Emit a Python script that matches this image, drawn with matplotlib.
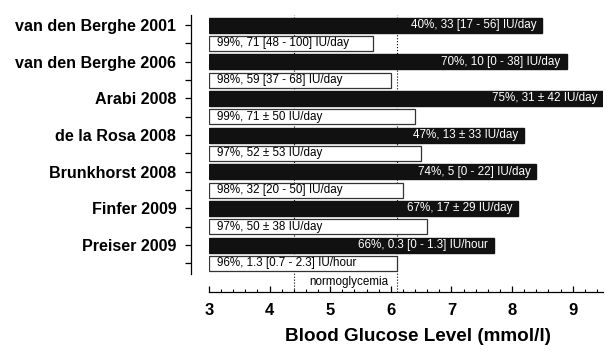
import matplotlib
matplotlib.use("Agg")
import matplotlib.pyplot as plt
from matplotlib.ticker import MultipleLocator

plt.rcParams['font.family'] = ['Liberation Sans', 'DejaVu Sans']

# trials, top to bottom
trials = ['van den Berghe 2001', 'van den Berghe 2006', 'Arabi 2008',
          'de la Rosa 2008', 'Brunkhorst 2008', 'Finfer 2009', 'Preiser 2009']

# mean blood glucose (mmol/l): conventional (black) and intensive (white)
conventional = [8.5, 8.9, 9.5, 8.2, 8.4, 8.1, 7.7]
intensive = [5.7, 6.0, 6.4, 6.5, 6.2, 6.6, 6.1]

# insulin use: percentage treated, dose
conventional_text = ['40%, 33 [17 - 56] IU/day', '70%, 10 [0 - 38] IU/day',
                     '75%, 31 \u00b1 42 IU/day', '47%, 13 \u00b1 33 IU/day',
                     '74%, 5 [0 - 22] IU/day', '67%, 17 \u00b1 29 IU/day',
                     '66%, 0.3 [0 - 1.3] IU/hour']
intensive_text = ['99%, 71 [48 - 100] IU/day', '98%, 59 [37 - 68] IU/day',
                  '99%, 71 \u00b1 50 IU/day', '97%, 52 \u00b1 53 IU/day',
                  '98%, 32 [20 - 50] IU/day', '97%, 50 \u00b1 38 IU/day',
                  '96%, 1.3 [0.7 - 2.3] IU/hour']

normo_low = 4.4
normo_high = 6.1
x_start = 3.0


def main():
    fig = plt.figure(figsize=(6.11, 3.56), dpi=100)
    ax = fig.add_axes([0.342, 0.181, 0.645, 0.777])

    # spines first: set_position resets the ticks
    ax.spines['top'].set_visible(False)
    ax.spines['right'].set_visible(False)
    ax.spines['left'].set_position(('outward', 13))
    ax.spines['left'].set_bounds(-0.55, 13.55)
    ax.spines['left'].set_linewidth(0.9)
    ax.spines['bottom'].set_linewidth(0.9)

    pos_conv = [2 * i for i in range(len(trials))]
    pos_int = [2 * i + 1 for i in range(len(trials))]

    ax.barh(pos_conv, [v - x_start for v in conventional], left=x_start,
            height=0.82, color='#111111', edgecolor='#111111', zorder=3)
    ax.barh(pos_int, [v - x_start for v in intensive], left=x_start,
            height=0.82, color='white', edgecolor='#333333', linewidth=0.9,
            zorder=3)

    for p, v, t in zip(pos_conv, conventional, conventional_text):
        ax.annotate(t, (v, p), xytext=(-4.3, 0), textcoords='offset points',
                    ha='right', va='center', color='white', fontsize=8.4,
                    zorder=4)
    for p, t in zip(pos_int, intensive_text):
        ax.annotate(t, (x_start, p), xytext=(5.5, 0), textcoords='offset points',
                    ha='left', va='center', color='black', fontsize=8.4,
                    zorder=4)

    # normoglycemia range
    ax.axvline(normo_low, color='black', linestyle=':', linewidth=0.8, zorder=1)
    ax.axvline(normo_high, color='black', linestyle=':', linewidth=0.8, zorder=1)
    ax.text((normo_low + normo_high) / 2 + 0.05, 14.0, 'normoglycemia',
            ha='center', va='center', fontsize=8.4)

    ax.set_xlim(3, 9.5)
    ax.set_ylim(14.53, -0.55)

    ax.set_yticks(pos_conv + pos_int)
    ax.set_yticklabels(trials + [''] * len(trials), fontweight='bold')
    ax.tick_params(axis='y', direction='out', length=4, width=0.9, pad=6.5,
                   labelsize=11.6)

    ax.xaxis.set_major_locator(MultipleLocator(1))
    ax.xaxis.set_minor_locator(MultipleLocator(0.2))
    ax.tick_params(axis='x', which='major', direction='in', length=4,
                   width=0.9, pad=8, labelsize=12)
    ax.tick_params(axis='x', which='minor', direction='in', length=2.5,
                   width=0.8)
    for lbl in ax.get_xticklabels():
        lbl.set_fontweight('bold')

    ax.set_xlabel('Blood Glucose Level (mmol/l)', fontsize=13.6,
                  fontweight='bold', labelpad=8)
    ax.xaxis.set_label_coords(0.53, -0.13)

    fig.savefig('out.png', dpi=100)


if __name__ == "__main__":
    main()
